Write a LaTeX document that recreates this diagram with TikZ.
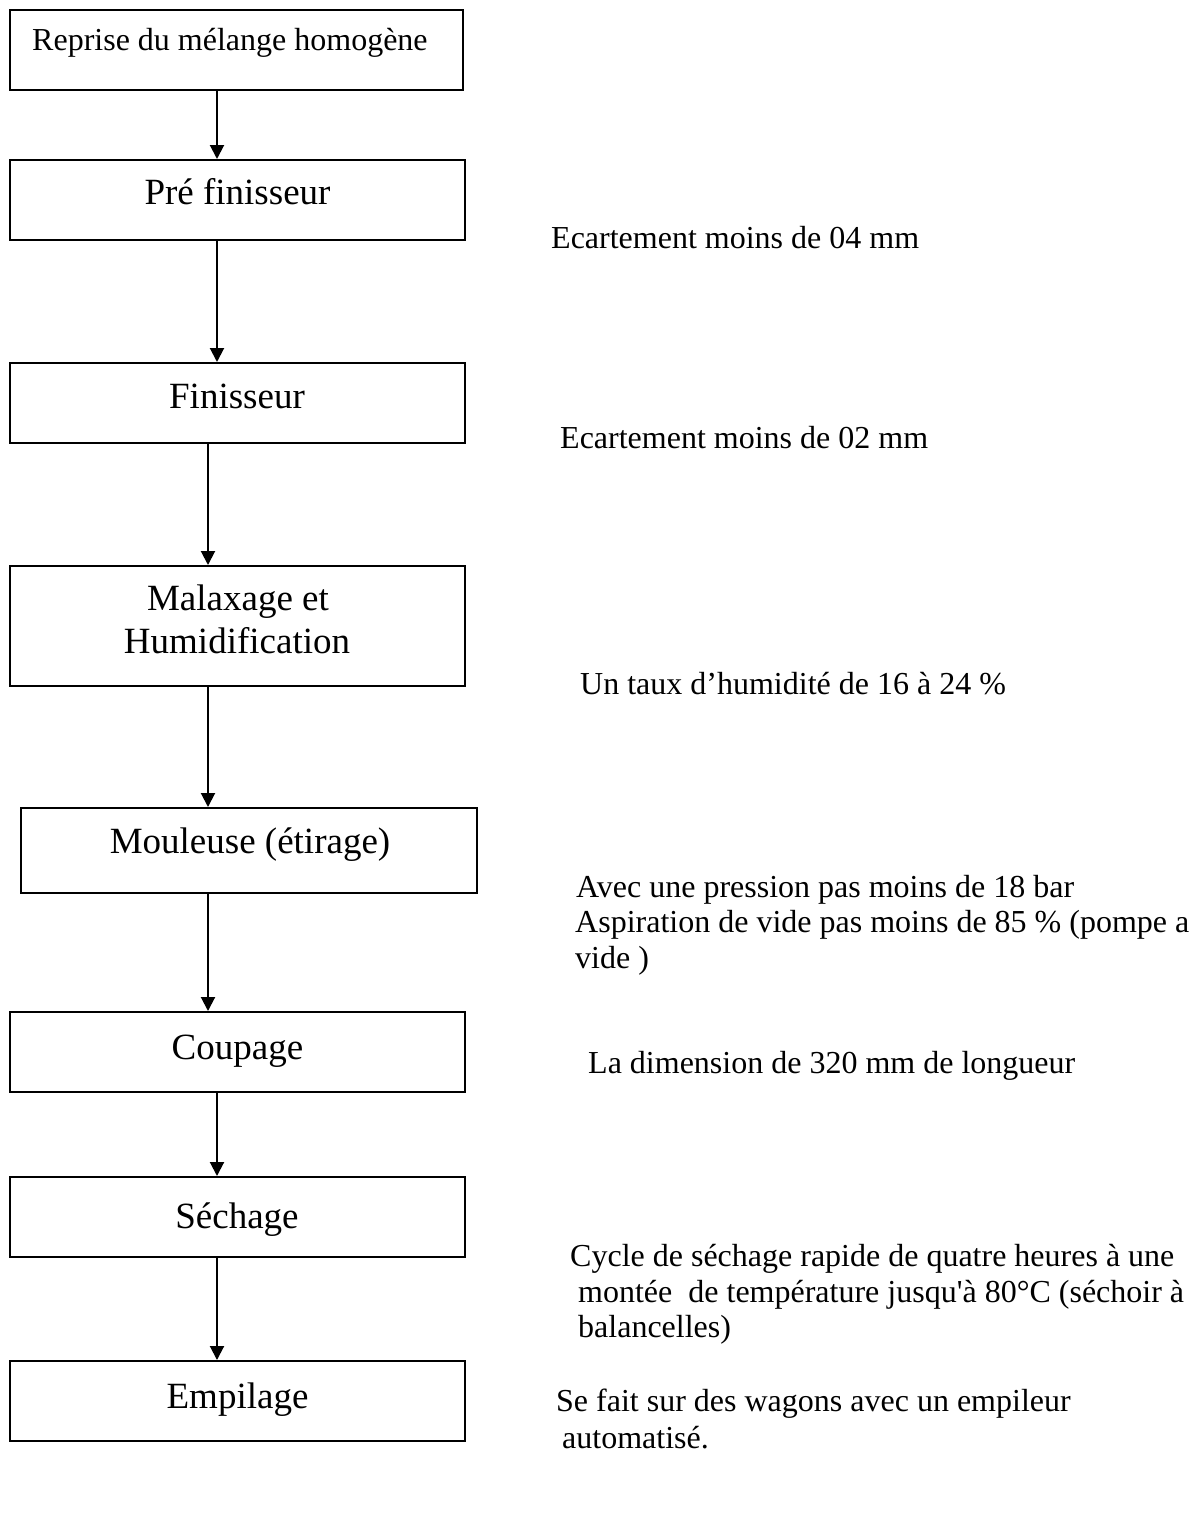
\documentclass[tikz,border=0pt]{standalone}
\usepackage{fontspec}
\setmainfont{Liberation Serif}
\usetikzlibrary{arrows.meta}
\begin{document}
\begin{tikzpicture}[x=1pt,y=-1pt,
  stage/.style={draw, line width=2pt, inner sep=0pt, minimum width=455pt, minimum height=80pt},
  flow/.style={line width=2pt, -{Triangle[width=14pt,length=14pt]}},
  boxtext/.style={font=\fontsize{37}{42}\selectfont, anchor=base, inner sep=0pt},
  smalltext/.style={font=\fontsize{32}{36}\selectfont, anchor=base west, inner sep=0pt},
  note/.style={font=\fontsize{32}{36}\selectfont, anchor=base west, inner sep=0pt}]
\useasboundingbox[fill=white] (0,0) rectangle (1202,1513);

% process steps
\node[stage, minimum width=453pt] (b1) at (236.5,50) {};
\node[stage] (b2) at (237.5,200) {};
\node[stage] (b3) at (237.5,403) {};
\node[stage, minimum height=120pt] (b4) at (237.5,626) {};
\node[stage, minimum width=456pt, minimum height=85pt] (b5) at (249,850.5) {};
\node[stage] (b6) at (237.5,1052) {};
\node[stage] (b7) at (237.5,1217) {};
\node[stage] (b8) at (237.5,1401) {};

% step titles
\node[smalltext] (t1) at (32,50) {Reprise du mélange homogène};
\node[boxtext] (t2) at (237.5,204) {Pré finisseur};
\node[boxtext] (t3) at (237,408) {Finisseur};
\node[boxtext] (t4a) at (238,610) {Malaxage et};
\node[boxtext] (t4b) at (237,653) {Humidification};
\node[boxtext] (t5) at (250,853) {Mouleuse (étirage)};
\node[boxtext] (t6) at (237.5,1059) {Coupage};
\node[boxtext] (t7) at (237,1228) {Séchage};
\node[boxtext] (t8) at (237.5,1408) {Empilage};

% arrow columns
\coordinate (xa) at (217,0);
\coordinate (xb) at (208,0);

\draw[flow] (b1.south -| xa) -- (b2.north -| xa);
\draw[flow] (b2.south -| xa) -- (b3.north -| xa);
\draw[flow] (b3.south -| xb) -- (b4.north -| xb);
\draw[flow] (b4.south -| xb) -- (b5.north -| xb);
\draw[flow] (b5.south -| xb) -- (b6.north -| xb);
\draw[flow] (b6.south -| xa) -- (b7.north -| xa);
\draw[flow] (b7.south -| xa) -- (b8.north -| xa);

% operating conditions
\node[note] (n2) at (551,248) {Ecartement moins de 04 mm};
\node[note] (n3) at (560,448) {Ecartement moins de 02 mm};
\node[note] (n4) at (580,694) {Un taux d’humidité de 16 à 24 \%};
\node[note] (n5a) at (576,897) {Avec une pression pas moins de 18 bar};
\node[note] (n5b) at (575,932) {Aspiration de vide pas moins de 85 \% (pompe a};
\node[note] (n5c) at (575,968) {vide )};
\node[note] (n6) at (588,1073) {La dimension de 320 mm de longueur};
\node[note] (n7a) at (570,1266) {Cycle de séchage rapide de quatre heures à une};
\node[note] (n7b) at (578,1302) {montée\ \ de température jusqu\textquotesingle à 80°C (séchoir à};
\node[note] (n7c) at (578,1337) {balancelles)};
\node[note] (n8a) at (556,1411) {Se fait sur des wagons avec un empileur};
\node[note] (n8b) at (562,1448) {automatisé.};
\end{tikzpicture}
\end{document}
